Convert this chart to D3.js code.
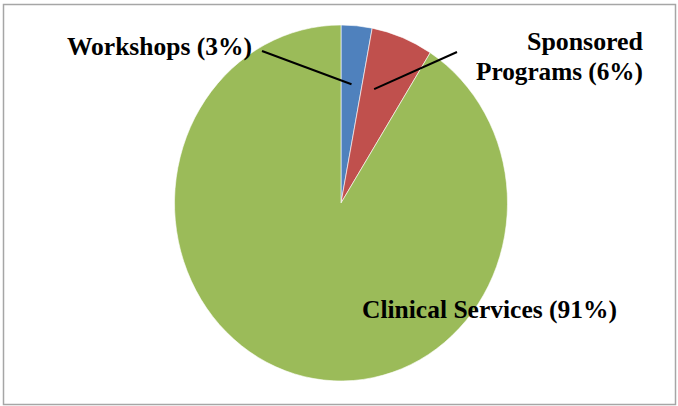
<!DOCTYPE html>
<html>
<head>
<meta charset="utf-8">
<script src="https://cdn.jsdelivr.net/npm/d3@7/dist/d3.min.js"></script>
<style>
  html, body { margin: 0; padding: 0; background: #fff; }
  svg { display: block; }
  .lbl { font-family: "Liberation Serif", "Times New Roman", Times, serif; font-weight: bold; }
</style>
</head>
<body>
<div id="chart"></div>
<script>
"use strict";

// data
const categories = ["Workshops", "Sponsored Programs", "Clinical Services"];
const shares = [3, 6, 91];
const sliceColors = ["#4f81bd", "#c0504d", "#9bbb59"];

const W = 678, H = 406;
const cx = 341, cy = 203, rx = 166.5, ry = 178;

const svg = d3.select("#chart").append("svg").attr("width", W).attr("height", H);

// chart frame
svg.append("rect").attr("x", 3.5).attr("y", 4.5).attr("width", 672).attr("height", 400)
  .attr("fill", "#fff").attr("stroke", "#a6a6a6").attr("stroke-width", 1.5);

const pie = d3.pie().sort(null).value(function (d) { return d; });
const arcs = pie(shares);
const arc = d3.arc().innerRadius(0).outerRadius(ry);

// slices drawn on a circle then squeezed into the ellipse of the original
const pieLayer = svg.append("g").attr("transform", "translate(" + cx + "," + cy + ") scale(" + (rx / ry) + ",1)");
pieLayer.selectAll("path.slice").data(arcs).join("path")
  .attr("class", "slice")
  .attr("d", arc)
  .attr("fill", function (d, i) { return sliceColors[i]; })
  .attr("stroke", "#fff").attr("stroke-width", 0.6)
  .attr("vector-effect", "non-scaling-stroke");

// point inside a slice, in page coordinates
function insidePoint(d, frac, bias) {
  const a = d.startAngle + (d.endAngle - d.startAngle) * bias;
  return [cx + Math.sin(a) * rx * frac, cy - Math.cos(a) * ry * frac];
}

const labels = [
  { lines: [categories[0] + " (" + shares[0] + "%)"], x: 67, y: 55, anchor: "start", widths: [185], lead: [262, 51], bias: 0.5 },
  { lines: ["Sponsored", "Programs (" + shares[1] + "%)"], x: 643, y: 50, anchor: "end", widths: [116, 167], lead: [457, 52], bias: 0.3 },
  { lines: [categories[2] + " (" + shares[2] + "%)"], x: 362, y: 318, anchor: "start", widths: [255], lead: null }
];

labels.forEach(function (lab, i) {
  if (lab.lead) {
    const p = insidePoint(arcs[i], 0.67, lab.bias);
    svg.append("line")
      .attr("x1", lab.lead[0]).attr("y1", lab.lead[1])
      .attr("x2", p[0]).attr("y2", p[1])
      .attr("stroke", "#000").attr("stroke-width", 2);
  }
  const t = svg.append("text").attr("class", "lbl")
    .attr("font-size", 26).attr("fill", "#000").attr("text-anchor", lab.anchor);
  lab.lines.forEach(function (line, k) {
    t.append("tspan").attr("x", lab.x).attr("y", lab.y + k * 30)
      .attr("textLength", lab.widths[k]).attr("lengthAdjust", "spacingAndGlyphs")
      .text(line);
  });
});
</script>
</body>
</html>
